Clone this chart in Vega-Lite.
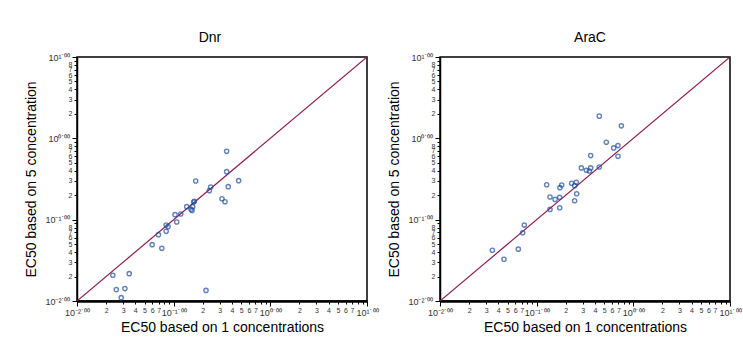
{
  "$schema": "https://vega.github.io/schema/vega-lite/v6.json",
  "background": "white",
  "padding": {"left": 24, "top": 30, "right": 0, "bottom": 5},
  "spacing": 8,
  "config": {
    "font": "Liberation Sans",
    "view": {"stroke": "black", "strokeWidth": 1.5},
    "title": {"fontSize": 14, "fontWeight": "normal", "color": "black", "offset": 8},
    "axis": {
      "grid": false,
      "labelFont": "Liberation Sans",
      "labelColor": "#333333",
      "labelOverlap": false,
      "labelFlush": false,
      "titleFont": "Liberation Sans",
      "titleFontSize": 14,
      "titleFontWeight": "normal",
      "titleColor": "black",
      "domainColor": "black",
      "tickColor": "black",
      "tickWidth": 1
    }
  },
  "datasets": {
    "diag": [{"x": 0.01, "y": 0.01}, {"x": 10, "y": 10}],
    "dnr": [
      {"x": 0.0235, "y": 0.0207}, {"x": 0.0255, "y": 0.0138}, {"x": 0.0287, "y": 0.0110},
      {"x": 0.0313, "y": 0.0142}, {"x": 0.0347, "y": 0.0217}, {"x": 0.0599, "y": 0.0493},
      {"x": 0.0696, "y": 0.0654}, {"x": 0.0754, "y": 0.0444}, {"x": 0.0836, "y": 0.0859},
      {"x": 0.0836, "y": 0.0719}, {"x": 0.0876, "y": 0.082}, {"x": 0.1035, "y": 0.1152},
      {"x": 0.1076, "y": 0.0936}, {"x": 0.1184, "y": 0.1174}, {"x": 0.1365, "y": 0.1445},
      {"x": 0.1514, "y": 0.134}, {"x": 0.155, "y": 0.130}, {"x": 0.1574, "y": 0.1445},
      {"x": 0.1612, "y": 0.165}, {"x": 0.1637, "y": 0.168}, {"x": 0.169, "y": 0.2985},
      {"x": 0.2162, "y": 0.0135}, {"x": 0.2339, "y": 0.2273}, {"x": 0.2415, "y": 0.2522},
      {"x": 0.316, "y": 0.181}, {"x": 0.3397, "y": 0.1663}, {"x": 0.3532, "y": 0.692},
      {"x": 0.3532, "y": 0.389}, {"x": 0.367, "y": 0.2546}, {"x": 0.47, "y": 0.3016}
    ],
    "arac": [
      {"x": 0.0348, "y": 0.0421}, {"x": 0.0459, "y": 0.0326}, {"x": 0.0646, "y": 0.0434},
      {"x": 0.0716, "y": 0.069}, {"x": 0.0745, "y": 0.0857}, {"x": 0.1269, "y": 0.269},
      {"x": 0.1374, "y": 0.19}, {"x": 0.1374, "y": 0.1337}, {"x": 0.155, "y": 0.1776},
      {"x": 0.173, "y": 0.140}, {"x": 0.173, "y": 0.188}, {"x": 0.174, "y": 0.2473},
      {"x": 0.1815, "y": 0.2667}, {"x": 0.230, "y": 0.28}, {"x": 0.247, "y": 0.262},
      {"x": 0.247, "y": 0.171}, {"x": 0.257, "y": 0.2877}, {"x": 0.2594, "y": 0.2084},
      {"x": 0.2897, "y": 0.4326}, {"x": 0.3266, "y": 0.4045}, {"x": 0.351, "y": 0.397},
      {"x": 0.362, "y": 0.4326}, {"x": 0.362, "y": 0.614}, {"x": 0.4446, "y": 0.4446},
      {"x": 0.4446, "y": 1.875}, {"x": 0.5256, "y": 0.895}, {"x": 0.626, "y": 0.763},
      {"x": 0.6935, "y": 0.815}, {"x": 0.6935, "y": 0.602}, {"x": 0.7516, "y": 1.425}
    ]
  },
  "hconcat": [
    {
      "width": 290,
      "height": 244,
      "title": {"text": "Dnr", "dx": -12, "fontWeight": "normal", "fontSize": 14},
      "layer": [
        {
          "data": {"name": "diag"},
          "mark": {"type": "line", "color": "#8E1D50", "strokeWidth": 1.2, "clip": true},
          "encoding": {
            "x": {"field": "x", "type": "quantitative", "scale": {"type": "log", "domain": [0.01, 10], "nice": false},
              "axis": {
                "title": "EC50 based on 1 concentrations",
                "titlePadding": 3,
                "domainWidth": 2.5,
                "values": [0.01, 0.02, 0.03, 0.04, 0.05, 0.06, 0.07, 0.08, 0.09, 0.1, 0.2, 0.3, 0.4, 0.5, 0.6, 0.7, 0.8, 0.9, 1, 2, 3, 4, 5, 6, 7, 8, 9, 10],
                "tickSize": {"condition": {"test": "datum.value == 0.01 || datum.value == 0.1 || datum.value == 1 || datum.value == 10", "value": 5}, "value": 3},
                "labelFontSize": {"condition": {"test": "datum.value == 0.01 || datum.value == 0.1 || datum.value == 1 || datum.value == 10", "value": 9}, "value": 7},
                "labelExpr": "datum.value == 0.01 ? '10⁻²˙⁰⁰' : datum.value == 0.1 ? '10⁻¹˙⁰⁰' : datum.value == 1 ? '10⁰˙⁰⁰' : datum.value == 10 ? '10¹˙⁰⁰' : (round(datum.value / pow(10, floor(log(datum.value) / LN10 + 0.000001))) <= 7 ? format(round(datum.value / pow(10, floor(log(datum.value) / LN10 + 0.000001))), 'd') : '')"
              }
            },
            "y": {"field": "y", "type": "quantitative", "scale": {"type": "log", "domain": [0.01, 10], "nice": false},
              "axis": {
                "title": "EC50 based on 5 concentration",
                "titlePadding": 6,
                "domainWidth": 1.5,
                "values": [0.01, 0.02, 0.03, 0.04, 0.05, 0.06, 0.07, 0.08, 0.09, 0.1, 0.2, 0.3, 0.4, 0.5, 0.6, 0.7, 0.8, 0.9, 1, 2, 3, 4, 5, 6, 7, 8, 9, 10],
                "tickSize": {"condition": {"test": "datum.value == 0.01 || datum.value == 0.1 || datum.value == 1 || datum.value == 10", "value": 5}, "value": 3},
                "labelFontSize": {"condition": {"test": "datum.value == 0.01 || datum.value == 0.1 || datum.value == 1 || datum.value == 10", "value": 9}, "value": 7},
                "labelExpr": "datum.value == 0.01 ? '10⁻²˙⁰⁰' : datum.value == 0.1 ? '10⁻¹˙⁰⁰' : datum.value == 1 ? '10⁰˙⁰⁰' : datum.value == 10 ? '10¹˙⁰⁰' : (round(datum.value / pow(10, floor(log(datum.value) / LN10 + 0.000001))) <= 8 ? format(round(datum.value / pow(10, floor(log(datum.value) / LN10 + 0.000001))), 'd') : '')"
              }
            }
          }
        },
        {
          "data": {"name": "dnr"},
          "mark": {"type": "point", "shape": "circle", "filled": false, "color": "#1F4F9C", "size": 18, "strokeWidth": 1.4},
          "encoding": {
            "x": {"field": "x", "type": "quantitative"},
            "y": {"field": "y", "type": "quantitative"}
          }
        }
      ]
    },
    {
      "width": 290,
      "height": 244,
      "title": {"text": "AraC", "dx": 5, "fontWeight": "normal", "fontSize": 14},
      "layer": [
        {
          "data": {"name": "diag"},
          "mark": {"type": "line", "color": "#8E1D50", "strokeWidth": 1.2, "clip": true},
          "encoding": {
            "x": {"field": "x", "type": "quantitative", "scale": {"type": "log", "domain": [0.01, 10], "nice": false},
              "axis": {
                "title": "EC50 based on 1 concentrations",
                "titlePadding": 3,
                "domainWidth": 2.5,
                "values": [0.01, 0.02, 0.03, 0.04, 0.05, 0.06, 0.07, 0.08, 0.09, 0.1, 0.2, 0.3, 0.4, 0.5, 0.6, 0.7, 0.8, 0.9, 1, 2, 3, 4, 5, 6, 7, 8, 9, 10],
                "tickSize": {"condition": {"test": "datum.value == 0.01 || datum.value == 0.1 || datum.value == 1 || datum.value == 10", "value": 5}, "value": 3},
                "labelFontSize": {"condition": {"test": "datum.value == 0.01 || datum.value == 0.1 || datum.value == 1 || datum.value == 10", "value": 9}, "value": 7},
                "labelExpr": "datum.value == 0.01 ? '10⁻²˙⁰⁰' : datum.value == 0.1 ? '10⁻¹˙⁰⁰' : datum.value == 1 ? '10⁰˙⁰⁰' : datum.value == 10 ? '10¹˙⁰⁰' : (round(datum.value / pow(10, floor(log(datum.value) / LN10 + 0.000001))) <= 7 ? format(round(datum.value / pow(10, floor(log(datum.value) / LN10 + 0.000001))), 'd') : '')"
              }
            },
            "y": {"field": "y", "type": "quantitative", "scale": {"type": "log", "domain": [0.01, 10], "nice": false},
              "axis": {
                "title": "EC50 based on 5 concentration",
                "titlePadding": 6,
                "domainWidth": 1.5,
                "values": [0.01, 0.02, 0.03, 0.04, 0.05, 0.06, 0.07, 0.08, 0.09, 0.1, 0.2, 0.3, 0.4, 0.5, 0.6, 0.7, 0.8, 0.9, 1, 2, 3, 4, 5, 6, 7, 8, 9, 10],
                "tickSize": {"condition": {"test": "datum.value == 0.01 || datum.value == 0.1 || datum.value == 1 || datum.value == 10", "value": 5}, "value": 3},
                "labelFontSize": {"condition": {"test": "datum.value == 0.01 || datum.value == 0.1 || datum.value == 1 || datum.value == 10", "value": 9}, "value": 7},
                "labelExpr": "datum.value == 0.01 ? '10⁻²˙⁰⁰' : datum.value == 0.1 ? '10⁻¹˙⁰⁰' : datum.value == 1 ? '10⁰˙⁰⁰' : datum.value == 10 ? '10¹˙⁰⁰' : (round(datum.value / pow(10, floor(log(datum.value) / LN10 + 0.000001))) <= 8 ? format(round(datum.value / pow(10, floor(log(datum.value) / LN10 + 0.000001))), 'd') : '')"
              }
            }
          }
        },
        {
          "data": {"name": "arac"},
          "mark": {"type": "point", "shape": "circle", "filled": false, "color": "#1F4F9C", "size": 18, "strokeWidth": 1.4},
          "encoding": {
            "x": {"field": "x", "type": "quantitative"},
            "y": {"field": "y", "type": "quantitative"}
          }
        }
      ]
    }
  ]
}
